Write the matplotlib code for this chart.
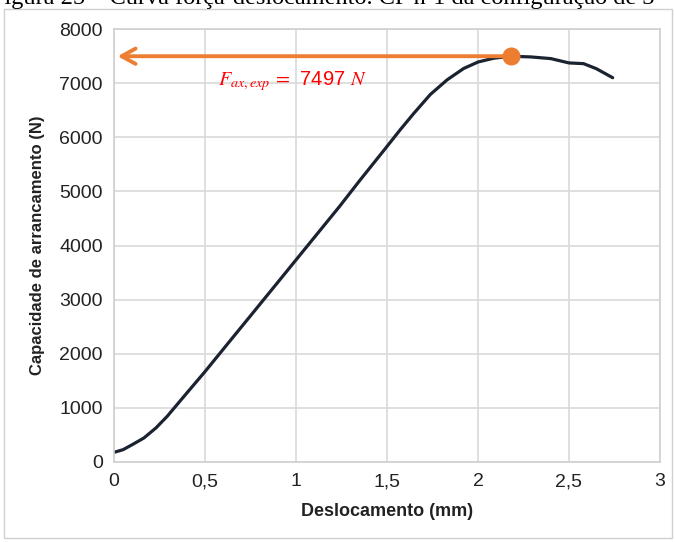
import matplotlib
matplotlib.use("Agg")
import matplotlib.pyplot as plt
from matplotlib.patches import Rectangle

# curve
desloc = [0, 0.05, 0.1, 0.164, 0.23, 0.292, 0.4, 0.5, 0.639, 0.748, 0.803, 0.9,
          1.0, 1.095, 1.24, 1.35, 1.5, 1.573, 1.647, 1.738, 1.83, 1.921, 2.0,
          2.086, 2.18, 2.29, 2.4, 2.5, 2.58, 2.65, 2.74]
forca = [178, 228, 320, 443, 628, 843, 1274, 1670, 2244, 2693, 2920, 3320,
         3734, 4126, 4725, 5200, 5830, 6140, 6440, 6790, 7060, 7270, 7390,
         7460, 7497, 7484, 7453, 7373, 7360, 7267, 7100]

x_pico = 2.18
f_pico = 7497
x_ticks = [0, 0.5, 1, 1.5, 2, 2.5, 3]
x_labels = ["0", "0,5", "1", "1,5", "2", "2,5", "3"]
y_ticks = [0, 1000, 2000, 3000, 4000, 5000, 6000, 7000, 8000]

plt.rcParams["mathtext.fontset"] = "stix"

fig = plt.figure(figsize=(6.75, 5.42), dpi=100)
ax = fig.add_axes([114 / 675, 80 / 542, 546 / 675, 433 / 542])

# outer frame and cropped caption
fig.patches.append(Rectangle((4 / 675, 4 / 542), 668 / 675, 529 / 542,
                             transform=fig.transFigure, fill=False,
                             edgecolor="#d0d0d0", linewidth=1))
fig.text(-0.014, 1 - 4 / 542, "Figura 25 – Curva força-deslocamento. CP nº1 da configuração de 3",
         family="Liberation Serif", fontsize=17.5, va="baseline", ha="left")

ax.plot(desloc, forca, color="#1b2230", linewidth=2.3, solid_capstyle="round",
        solid_joinstyle="round")

ax.annotate("", xy=(0.02, f_pico), xytext=(x_pico, f_pico),
            arrowprops=dict(arrowstyle="->,head_length=1.0,head_width=0.55",
                            color="#ED7D31", linewidth=2.8,
                            shrinkA=0, shrinkB=0))
ax.plot([x_pico], [f_pico], "o", color="#ED7D31", markersize=12, zorder=5)
ax.text(0.57, 6960, r"$F_{ax,exp}\,=\,$ 7497 $N$", color="#FF0000",
        fontsize=14.5, family="Liberation Sans", va="baseline")

ax.set_xlim(0, 3)
ax.set_ylim(0, 8000)
ax.set_xticks(x_ticks)
ax.set_xticklabels(x_labels)
ax.set_yticks(y_ticks)
ax.grid(True, color="#d9d9d9", linewidth=1.2)
ax.set_axisbelow(True)
for s in ax.spines.values():
    s.set_color("#d0d0d0")
    s.set_linewidth(1.2)
ax.tick_params(length=0, labelsize=14, colors="#222222", pad=8)
for lab in ax.get_xticklabels() + ax.get_yticklabels():
    lab.set_family("Liberation Sans")

ax.set_xlabel("Deslocamento (mm)", fontsize=13, fontweight="bold",
              family="Liberation Sans", color="#222222", labelpad=9)
ax.set_ylabel("Capacidade de arrancamento (N)", fontsize=12, fontweight="bold",
              family="Liberation Sans", color="#222222", labelpad=10)

fig.savefig("out.png", dpi=100)
